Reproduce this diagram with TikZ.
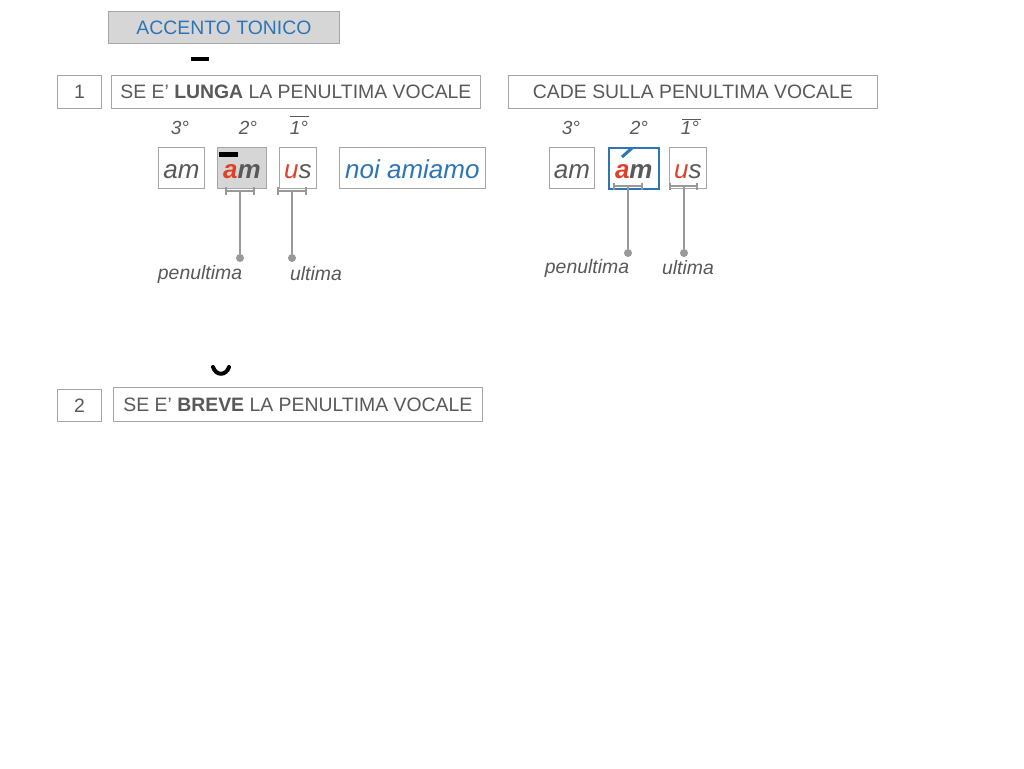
\documentclass[tikz,border=0pt]{standalone}
\usepackage{fontspec}
\setmainfont{Liberation Sans}
\definecolor{txt}{HTML}{595959}
\definecolor{bord}{HTML}{A6A6A6}
\definecolor{fillg}{HTML}{D6D6D6}
\definecolor{blu}{HTML}{2E75B6}
\definecolor{rd}{HTML}{E0402A}
\definecolor{ln}{HTML}{999999}
\begin{document}
\begin{tikzpicture}[x=1pt,y=-1pt,
  box/.style={draw=bord,line width=0.8pt,anchor=north west,inner sep=0pt,text=txt,font=\fontsize{19.4}{23}\selectfont},
  syl/.style={draw=bord,line width=0.8pt,anchor=north west,inner sep=0pt,minimum height=41pt,text height=21pt,text depth=0pt,text=txt,font=\fontsize{26}{30}\selectfont\itshape},
  ord/.style={text=txt,inner sep=0pt,font=\fontsize{19}{23}\selectfont\itshape},
  lab/.style={text=txt,inner sep=0pt,font=\fontsize{19.4}{23}\selectfont\itshape},
  conn/.style={draw=ln,line width=1.6pt},
  dot/.style={circle,fill=ln,inner sep=0pt,minimum size=8pt}]
\fill[white] (0,0) rectangle (1024,768);
\useasboundingbox (0,0) rectangle (1024,768);
% title
\node[box,fill=fillg,text=blu,minimum width=231pt,minimum height=32pt] (title) at (108,11) {ACCENTO TONICO};
\fill[black] (191,57) rectangle (209,61);
% rule 1
\node[box,minimum width=44pt,minimum height=33pt] (n1) at (57,75) {1};
\node[box,minimum width=369pt,minimum height=33pt] (r1) at (111,75) {SE E’ \textbf{LUNGA} LA PENULTIMA VOCALE};
\node[box,minimum width=369pt,minimum height=33pt] (cade) at (508,75) {CADE SULLA PENULTIMA VOCALE};
% left group
\node[ord] (o3a) at (180,128) {3°};
\node[ord] (o2a) at (248,128) {2°};
\node[ord] (o1a) at (299,128) {1°};
\draw[draw=txt,line width=1pt] (290,116) -- (309,116);
\node[syl,minimum width=46pt] (am1) at (158,147) {am};
\node[syl,minimum width=49pt,fill=fillg] (am2) at (217,147) {\bfseries\textcolor{rd}{a}m};
\node[syl,minimum width=37pt] (us1) at (279,147) {\textcolor{rd}{u}s};
\node[syl,minimum width=146pt,text=blu] (noi) at (339,147) {noi amiamo};
\fill[black] (219,152) rectangle (238,156.5);
% brackets left
\draw[conn,line width=1.3pt] (226,191) -- (254,191) (226,187) -- (226,195) (254,187) -- (254,195);
\draw[conn,line width=1.3pt] (278,191) -- (306,191) (278,187) -- (278,195) (306,187) -- (306,195);
\coordinate (ba) at (240,191);
\coordinate (bb) at (292,191);
\node[dot] (da) at (240,258) {};
\node[dot] (db) at (292,258) {};
\draw[conn] (ba) -- (da);
\draw[conn] (bb) -- (db);
\node[lab] (pa) at (200,274) {penultima};
\node[lab] (ua) at (316,274) {ultima};
% right group
\node[ord] (o3b) at (571,128) {3°};
\node[ord] (o2b) at (639,128) {2°};
\node[ord] (o1b) at (690,128) {1°};
\draw[draw=txt,line width=1pt] (682,119) -- (701,119);
\node[syl,minimum width=45pt] (am3) at (549,147) {am};
\node[syl,minimum width=50pt,draw=blu,line width=1.6pt] (am4) at (608,147) {\bfseries\textcolor{rd}{a}m};
\node[syl,minimum width=37pt] (us2) at (669,147) {\textcolor{rd}{u}s};
\draw[blu,line width=3pt] (622,157) -- (632,148);
\draw[conn,line width=1.3pt] (614,186) -- (642,186) (614,182.5) -- (614,190) (642,182.5) -- (642,190);
\draw[conn,line width=1.3pt] (670,186) -- (697,186) (670,182.5) -- (670,190) (697,182.5) -- (697,190);
\coordinate (bc) at (628,186);
\coordinate (bd) at (684,186);
\node[dot] (dc) at (628,253) {};
\node[dot] (dd) at (684,253) {};
\draw[conn] (bc) -- (dc);
\draw[conn] (bd) -- (dd);
\node[lab] (pb) at (587,268) {penultima};
\node[lab] (ub) at (688,268) {ultima};
% rule 2
\draw[black,line width=4pt,line cap=round] (213,367) .. controls (216,376) and (226,376) .. (229,367);
\node[box,minimum width=44pt,minimum height=32pt] (n2) at (57,389) {2};
\node[box,minimum width=369pt,minimum height=34pt] (r2) at (113,387) {SE E’ \textbf{BREVE} LA PENULTIMA VOCALE};
\end{tikzpicture}
\end{document}
